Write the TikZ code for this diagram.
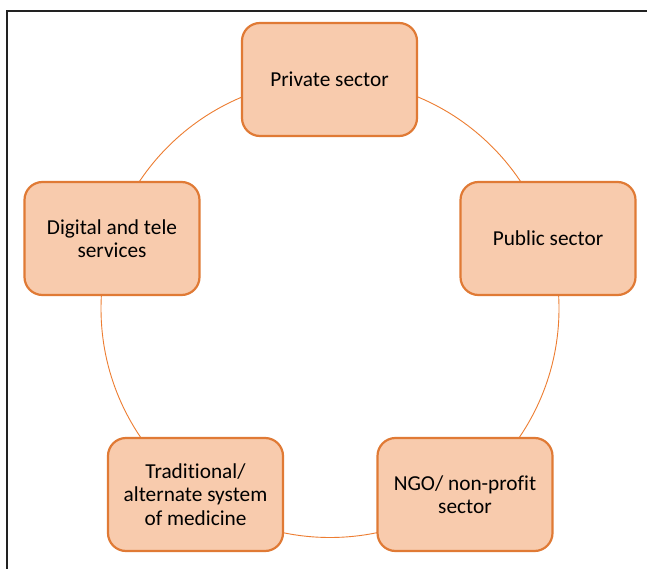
\documentclass[tikz,border=0pt]{standalone}
\usepackage{fontspec}
\setmainfont{Carlito}[Ligatures={NoCommon}]
\definecolor{boxfill}{HTML}{F8CBAD}
\definecolor{boxline}{HTML}{E07A35}
\definecolor{ringline}{HTML}{ED7D31}
\definecolor{frameline}{HTML}{222222}
\begin{document}
\begin{tikzpicture}[x=1pt,y=-1pt,
  sectorbox/.style={draw=boxline, line width=2.2pt, fill=boxfill, rounded corners=18pt,
    minimum width=175pt, minimum height=113pt, align=center, inner sep=0pt,
    font=\fontsize{21.3}{23.3}\selectfont, text=black},
  ring/.style={draw=ringline, line width=0.9pt}]
\useasboundingbox (0,0) rectangle (647,569);
\fill[white] (0,0) rectangle (647,569);
% frame
\draw[frameline, line width=2pt] (6.5,569) -- (6.5,11.5) -- (647,11.5);
% ring
\coordinate (c) at (330,308.5);
\draw[ring] (c) circle[radius=229pt];
% nodes
\node[sectorbox] (private) at (329.5,79.5) {Private sector};
\node[sectorbox] (public) at (548,238.5) {Public sector};
\node[sectorbox] (ngo) at (465,494.5) {NGO/ non-profit\\sector};
\node[sectorbox] (trad) at (195.5,494.5) {Traditional/\\alternate system\\of medicine};
\node[sectorbox] (digital) at (112,238.5) {Digital and tele\\services};
\end{tikzpicture}
\end{document}
